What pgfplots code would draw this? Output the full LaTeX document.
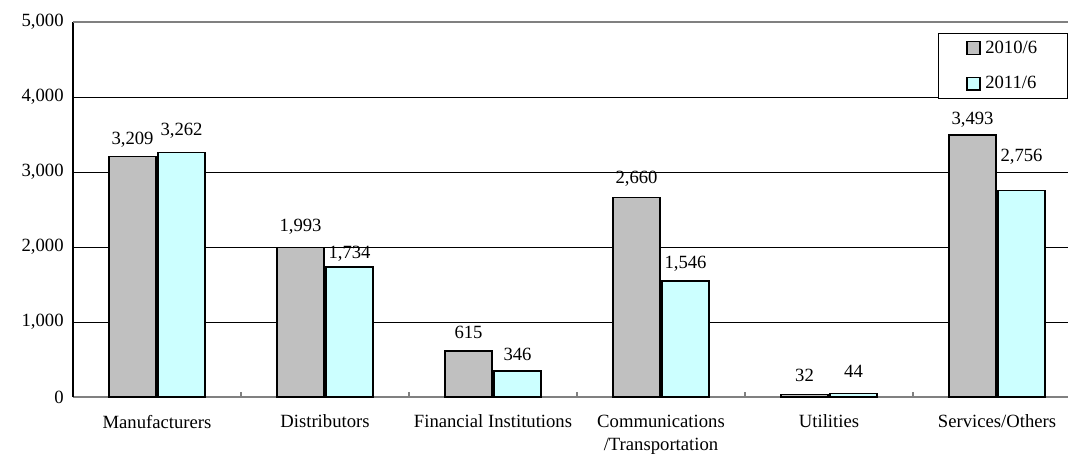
\documentclass[border=0pt]{standalone}
\usepackage{pgfplots}
\pgfplotsset{compat=1.18}
\usepackage{pgfplotstable}
\usepackage{fontspec}
\setmainfont{Liberation Serif}
\definecolor{barGray}{HTML}{C0C0C0}
\definecolor{barCyan}{HTML}{CCFFFF}
\definecolor{lineGray}{HTML}{808080}

\pgfplotstableread{
x y dy
0 3209 12.75
1 1993 15.75
2 615 13.5
3 2660 14.25
4 32 14.25
5 3493 11.25
}\tgray
\pgfplotstableread{
x y dy
0 3262 16.0
1 1734 9.75
2 346 12.75
3 1546 13.1
4 44 16.5
5 2756 25.5
}\tcyan

\pgfplotsset{
  /pgf/number format/1000 sep={,},
  /pgf/number format/assume math mode=true,
  mybar/.style={
    draw=black, line width=1.1pt,
    visualization depends on={\thisrow{dy}\as\dy},
    nodes near coords,
    every node near coord/.append style={anchor=center, yshift=\dy pt, text=black, font=\fontsize{14}{17}\selectfont},
    legend image code/.code={\draw[##1, line width=1.1pt, draw=black] (0pt,-4.75pt) rectangle (9.5pt,4.75pt);}
  }
}

\begin{document}
\begin{tikzpicture}[font=\fontsize{14}{17}\selectfont]
\useasboundingbox (0,0) rectangle (801pt,340.5pt);
\begin{axis}[
  at={(54.75pt,42.75pt)}, anchor=south west,
  scale only axis, width=746.25pt, height=281.25pt,
  ybar=1.5pt, bar width=35.25pt,
  xmin=-0.5, xmax=5.4226, ymin=0, ymax=5000,
  axis x line*=bottom, axis y line*=left,
  x axis line style={lineGray, line width=1.1pt},
  y axis line style={black, line width=0.8pt},
  xtick={0,1,2,3,4,5},
  xticklabels={Manufacturers, Distributors, Financial Institutions, {Communications\\/Transportation}, Utilities, Services/Others},
  xticklabel style={align=center, yshift=-10pt},
  minor xtick={0.5,1.5,2.5,3.5,4.5},
  major tick length=0pt, minor tick length=3.5pt, tick align=inside,
  minor tick style={lineGray, line width=0.8pt},
  ytick={0,1000,2000,3000,4000},
  extra y ticks={5000},
  extra y tick style={grid style={lineGray, line width=1.1pt}},
  yticklabel style={xshift=-3.5pt},
  ymajorgrids, grid style={black, line width=0.6pt},
  legend style={at={(0.8693,0.9707)}, anchor=north west, draw=black, line width=0.75pt,
    inner xsep=21pt, inner ysep=3.5pt, row sep=12pt, nodes={inner sep=2pt},
    /tikz/every odd column/.append style={column sep=1.5pt},
    font=\fontsize{14}{17}\selectfont},
  legend cell align=left,
  clip=false,
]
\addplot[mybar, fill=barGray] table[x=x,y=y] {\tgray};
\addplot[mybar, fill=barCyan] table[x=x,y=y] {\tcyan};
\legend{2010/6\hspace{12pt}, 2011/6\hspace{12pt}}
\end{axis}
\end{tikzpicture}
\end{document}
